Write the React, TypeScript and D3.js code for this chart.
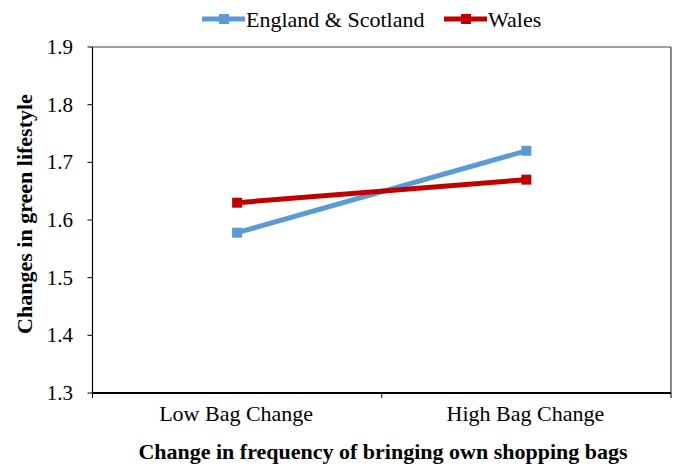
import React from "react";
import * as d3 from "d3";

const categories = ["Low Bag Change", "High Bag Change"];
const englandScotland = [1.578, 1.72];
const wales = [1.63, 1.67];
const yTicks = [1.3, 1.4, 1.5, 1.6, 1.7, 1.8, 1.9];
const seriesNames = ["England & Scotland", "Wales"];
const colors = ["#5b9bd5", "#c00000"];

export default function App() {
  const W = 680, H = 465;
  const left = 92.5, right = 671, top = 47, bottom = 393;
  const x = d3.scaleBand<string>().domain(categories).range([left, right]);
  const y = d3.scaleLinear().domain([1.3, 1.9]).range([bottom, top]);
  const line = d3
    .line<number>()
    .x((_, i) => (x(categories[i]) as number) + x.bandwidth() / 2)
    .y((d) => y(d));
  const series = [englandScotland, wales];
  const font = "Liberation Serif";
  const legendX = [202, 444];
  return (
    <svg width={W} height={H} style={{ position: "absolute", left: 0, top: 0 }} fontFamily={font}>
      <rect x={0} y={0} width={W} height={H} fill="#fff" />
      <line x1={left} x2={right} y1={top} y2={top} stroke="#404040" strokeWidth={1.2} />
      <line x1={right} x2={right} y1={top} y2={bottom} stroke="#404040" strokeWidth={1.2} />
      <line x1={left} x2={left} y1={top} y2={bottom} stroke="#000" strokeWidth={1.2} />
      <line x1={left} x2={right} y1={bottom} y2={bottom} stroke="#000" strokeWidth={1.8} />
      {yTicks.map((t) => (
        <g key={t}>
          <line x1={left - 5} x2={left} y1={y(t)} y2={y(t)} stroke="#000" strokeWidth={1} />
          <text x={73} y={y(t)} dy="0.33em" textAnchor="end" fontSize={21} fontFamily={font}>
            {t.toFixed(1)}
          </text>
        </g>
      ))}
      {[left, left + x.bandwidth(), right].map((xx, i) => (
        <line key={i} x1={xx} x2={xx} y1={bottom} y2={bottom + 5} stroke="#000" strokeWidth={1} />
      ))}
      {categories.map((c) => (
        <text key={c} x={(x(c) as number) + x.bandwidth() / 2 - 1} y={421} textAnchor="middle" fontSize={22} fontFamily={font}>
          {c}
        </text>
      ))}
      <text x={383} y={459} textAnchor="middle" fontSize={22} fontWeight="bold" fontFamily={font}>
        Change in frequency of bringing own shopping bags
      </text>
      <text
        transform={`translate(32,214) rotate(-90)`}
        textAnchor="middle"
        fontSize={22}
        fontWeight="bold"
        fontFamily={font}
      >
        Changes in green lifestyle
      </text>
      {series.map((s, si) => (
        <g key={si}>
          <path d={line(s) || ""} fill="none" stroke={colors[si]} strokeWidth={5} />
          {s.map((v, i) => (
            <rect
              key={i}
              x={(x(categories[i]) as number) + x.bandwidth() / 2 - 5}
              y={y(v) - 5}
              width={10}
              height={10}
              fill={colors[si]}
            />
          ))}
        </g>
      ))}
      {seriesNames.map((n, i) => (
        <g key={n}>
          <line x1={legendX[i]} x2={legendX[i] + 43} y1={19} y2={19} stroke={colors[i]} strokeWidth={5} />
          <rect x={legendX[i] + 17} y={14} width={10} height={10} fill={colors[i]} />
          <text x={legendX[i] + 44} y={19} dy="0.35em" fontSize={22} fontFamily={font}>
            {n}
          </text>
        </g>
      ))}
    </svg>
  );
}
